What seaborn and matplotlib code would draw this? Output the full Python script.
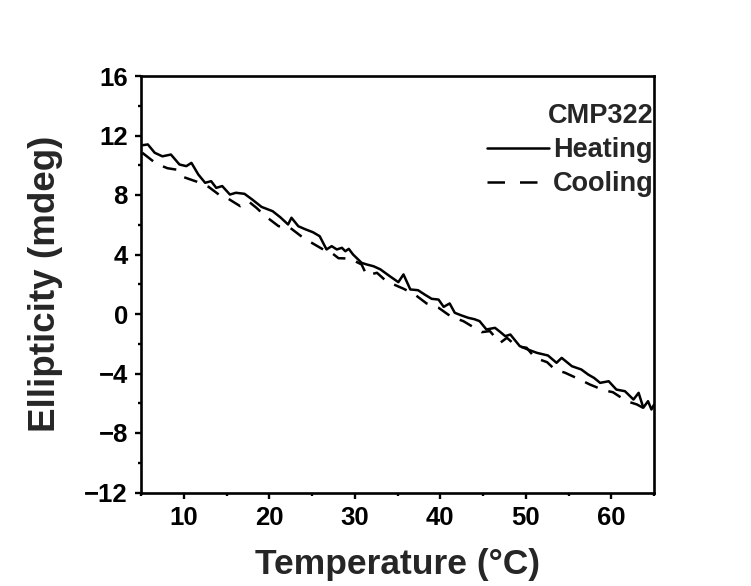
import numpy as np
import pandas as pd
import matplotlib
matplotlib.use("Agg")
import matplotlib.pyplot as plt
from matplotlib.ticker import MultipleLocator
from matplotlib.lines import Line2D
import seaborn as sns

# ---- data ----
heat_T = [5, 5.8, 6.6, 7.5, 8.5, 9.5, 10.3, 10.9, 11.7, 12.5, 13.2, 13.8, 14.5, 15.4, 16.1,
          17.1, 18.0, 19.1, 20.4, 21.3, 22.2, 22.6, 23.4, 24.2, 25.1, 25.9, 26.7, 27.3, 27.9,
          28.5, 28.9, 29.3, 29.8, 30.8, 31.4, 32.2, 33.0, 34.1, 35.1, 35.7, 36.5, 37.4, 38.2,
          39.0, 39.8, 40.4, 41.1, 41.7, 42.5, 43.3, 44.0, 44.6, 45.4, 46.4, 47.0, 47.6, 48.2,
          49.3, 50.3, 51.3, 52.6, 53.6, 54.2, 55.4, 56.5, 57.3, 58.0, 58.7, 59.7, 60.6, 61.6,
          62.6, 63.2, 63.75, 64.3, 64.7, 65.0]
heat_E = [11.33, 11.4, 10.84, 10.6, 10.72, 10.05, 9.94, 10.16, 9.38, 8.82, 8.93, 8.48, 8.6, 8.03,
          8.15, 8.08, 7.7, 7.2, 6.91, 6.5, 6.02, 6.47, 5.9, 5.7, 5.5, 5.23, 4.34, 4.56, 4.34,
          4.45, 4.22, 4.38, 4.0, 3.44, 3.33, 3.21, 3.0, 2.54, 2.14, 2.66, 1.65, 1.6, 1.3, 1.02,
          0.97, 0.48, 0.71, 0.08, -0.1, -0.26, -0.35, -0.48, -1.04, -0.93, -1.2, -1.49, -1.38,
          -2.16, -2.4, -2.61, -2.79, -3.28, -2.95, -3.51, -3.73, -4.07, -4.3, -4.63, -4.52,
          -5.08, -5.19, -5.75, -5.3, -6.3, -5.86, -6.42, -6.1]

cool_T = [5.15, 6.8, 8.1, 9.2, 10.0, 11.5, 12.9, 14.4, 15.2, 16.6, 17.55, 18.5, 19.5, 21.1, 22.2,
          23.8, 25.1, 26.3, 27.1, 28.1, 29.4, 30.8, 31.4, 32.6, 33.7, 35.7, 37.0, 38.4, 39.8,
          41.3, 42.7, 44.85, 45.8, 47.0, 47.8, 48.9, 50.1, 51.1, 52.5, 53.4, 54.6, 56.3, 57.5,
          59.1, 60.2, 61.8, 63.0, 63.7, 64.9]
cool_E = [10.84, 10.1, 9.8, 9.7, 9.2, 8.9, 8.55, 7.9, 7.75, 7.25, 7.58, 7.14, 6.6, 5.9, 5.9,
          5.2, 4.74, 4.34, 4.2, 3.75, 3.73, 3.33, 2.6, 2.77, 2.2, 1.7, 1.32, 0.71, 0.42,
          -0.19, -0.48, -1.22, -1.15, -1.94, -1.6, -2.16, -2.27, -2.95, -3.24, -3.73, -3.95,
          -4.4, -4.74, -5.12, -5.26, -5.86, -6.08, -6.3, -6.5]

legend_title = "CMP322"
series_names = ["Heating", "Cooling"]
x_label = "Temperature (°C)"
y_label = "Ellipticity (mdeg)"

# ---- style ----
sns.set_style("ticks")
plt.rcParams["font.family"] = ["Liberation Sans", "DejaVu Sans"]
plt.rcParams["font.weight"] = "bold"
plt.rcParams["axes.labelweight"] = "bold"

fig = plt.figure(figsize=(7.51, 5.86), dpi=100)
ax = fig.add_axes([141 / 751, 1 - 492.5 / 586, (654 - 141) / 751, (492.5 - 76) / 586])

heat_df = pd.DataFrame({"T": heat_T, "E": heat_E})
cool_df = pd.DataFrame({"T": cool_T, "E": cool_E})

lw = 1.8
dash = (0, (5.5, 4.5))
sns.lineplot(data=heat_df, x="T", y="E", ax=ax, color="black", linewidth=lw,
             sort=False, estimator=None)
sns.lineplot(data=cool_df, x="T", y="E", ax=ax, color="black", linewidth=lw,
             sort=False, estimator=None, linestyle=dash)

ax.set_xlim(5, 65)
ax.set_ylim(-12, 16)
ax.xaxis.set_major_locator(MultipleLocator(10))
ax.xaxis.set_minor_locator(MultipleLocator(5))
ax.yaxis.set_major_locator(MultipleLocator(4))
ax.yaxis.set_minor_locator(MultipleLocator(2))

for s in ax.spines.values():
    s.set_visible(True)
    s.set_linewidth(1.9)
    s.set_color("black")

ax.tick_params(axis="both", which="major", direction="out", length=4.5, width=1.7,
               labelsize=18.5, colors="black", pad=5)
ax.tick_params(axis="both", which="minor", direction="out", length=2.5, width=1.7,
               colors="black")
ax.tick_params(top=False, right=False, which="both")
for lbl in ax.get_xticklabels() + ax.get_yticklabels():
    lbl.set_fontweight("bold")

ax.set_xlabel(x_label, fontsize=25.5, fontweight="bold", labelpad=13)
ax.set_ylabel(y_label, fontsize=26.5, fontweight="bold", labelpad=15)

handles = [Line2D([], [], color="black", linewidth=lw),
           Line2D([], [], color="black", linewidth=lw, linestyle=(0, (7, 6)))]
leg = ax.legend(handles, series_names, title=legend_title, loc="upper right",
                bbox_to_anchor=(1.0, 0.935), frameon=False,
                prop={"size": 19.5, "weight": "bold"},
                title_fontproperties={"size": 19.5, "weight": "bold"},
                handlelength=2.3, handletextpad=0.15, labelspacing=0.3,
                alignment="right", borderaxespad=0.0, borderpad=0.0)

fig.savefig("out.png", dpi=100, facecolor="white")
